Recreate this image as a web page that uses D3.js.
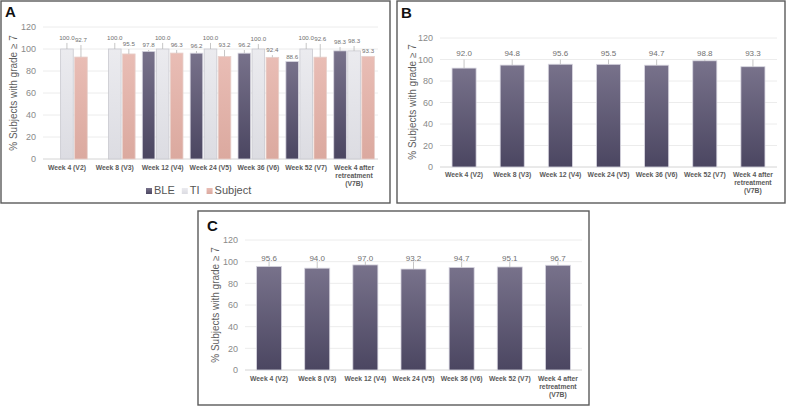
<!DOCTYPE html>
<html>
<head>
<meta charset="utf-8">
<script src="https://cdn.jsdelivr.net/npm/d3@7"></script>
<style>
  body { margin: 0; background: #fff; }
  svg { display: block; font-family: "Liberation Sans", Arial, sans-serif; }
</style>
</head>
<body>
<div id="chart"></div>
<script>
// categories (x axis)
const weekLabels = [
  ["Week 4 (V2)"], ["Week 8 (V3)"], ["Week 12 (V4)"], ["Week 24 (V5)"],
  ["Week 36 (V6)"], ["Week 52 (V7)"], ["Week 4 after", "retreatment", "(V7B)"]
];
const yTicks = [0, 20, 40, 60, 80, 100, 120];
const seriesNames = ["BLE", "TI", "Subject"];

// panel A values (% subjects with grade >= 7)
const aBLE = [null, null, 97.8, 96.2, 96.2, 88.6, 98.3];
const aTI = [100.0, 100.0, 100.0, 100.0, 100.0, 100.0, 98.3];
const aSubject = [92.7, 95.5, 96.3, 93.2, 92.4, 92.6, 93.3];
// upper whisker of each bar in panel A
const aBLEUpper = [null, null, 99.1, 98.2, 99.1, 88.6, 101.8];
const aTIUpper = [105.5, 105.5, 105.5, 105.5, 104.5, 105.5, 102.7];
const aSubjectUpper = [103.6, 100.0, 99.1, 99.1, 94.5, 104.5, 93.3];

// panel B values
const bValues = [92.0, 94.8, 95.6, 95.5, 94.7, 98.8, 93.3];
const bUpper = [100, 100, 100, 100, 100, 100, 100];

// panel C values
const cValues = [95.6, 94.0, 97.0, 93.2, 94.7, 95.1, 96.7];
const cUpper = [100, 100, 100, 100, 100, 100, 100];

const W = 788, H = 407;
const svg = d3.select("#chart").append("svg")
  .attr("width", W).attr("height", H);

svg.append("rect").attr("width", W).attr("height", H).attr("fill", "#fff");

// gradients for the bars
const defs = svg.append("defs");
var addGrad = function(id, top, bottom) {
  var g = defs.append("linearGradient").attr("id", id)
    .attr("x1", 0).attr("y1", 0).attr("x2", 0).attr("y2", 1);
  g.append("stop").attr("offset", "0%").attr("stop-color", top);
  g.append("stop").attr("offset", "100%").attr("stop-color", bottom);
};
addGrad("gBLE", "#78728b", "#4b4661");
addGrad("gTI", "#ebebef", "#dcdce2");
addGrad("gSub", "#e9bdb5", "#dba99f");
const fills = {BLE: "url(#gBLE)", TI: "url(#gTI)", Subject: "url(#gSub)"};
const edges = {BLE: "#d8d6e0", TI: "#c9c9cf", Subject: "#e8d0cb"};

var drawPanel = function(p) {
  // frame
  svg.append("rect")
    .attr("x", p.box[0]).attr("y", p.box[1])
    .attr("width", p.box[2] - p.box[0]).attr("height", p.box[3] - p.box[1])
    .attr("fill", "none").attr("stroke", "#5a5a5a").attr("stroke-width", 1.4);

  svg.append("text")
    .attr("x", p.letter[0]).attr("y", p.letter[1])
    .attr("font-size", 15).attr("font-weight", "bold").attr("fill", "#111")
    .text(p.name);

  var x = d3.scaleBand().domain(d3.range(weekLabels.length))
    .range([p.x0, p.x1]).paddingInner(p.pad).paddingOuter(p.pad / 2);
  var y = d3.scaleLinear().domain([0, 120]).range([p.yBase, p.yTop]);

  // gridlines
  var g = svg.append("g");
  g.selectAll(".grid").data(yTicks).enter().append("line")
    .attr("x1", p.x0).attr("x2", p.x1)
    .attr("y1", function(d) { return y(d); }).attr("y2", function(d) { return y(d); })
    .attr("stroke", function(d) { return d === 0 ? "#d4d4d4" : "#ececec"; })
    .attr("stroke-width", 1);

  // y axis labels (d3 axis, domain and ticks hidden)
  var ax = svg.append("g")
    .attr("transform", "translate(" + (p.x0 - 3) + ",0)")
    .call(d3.axisLeft(y).tickValues(yTicks).tickSize(0).tickPadding(4));
  ax.select(".domain").remove();
  ax.selectAll("text").attr("font-size", 9).attr("fill", "#8a8a8a")
    .attr("font-family", "Liberation Sans, Arial, sans-serif");

  // y title
  svg.append("text")
    .attr("transform", "translate(" + p.title[0] + "," + p.title[1] + ") rotate(-90)")
    .attr("text-anchor", "middle").attr("dominant-baseline", "central")
    .attr("font-size", 10).attr("fill", "#5f5f5f")
    .text("% Subjects with grade \u2265 7");

  // category labels
  weekLabels.forEach(function(lines, i) {
    var t = svg.append("text")
      .attr("x", x(i) + x.bandwidth() / 2).attr("y", p.catY)
      .attr("text-anchor", "middle").attr("font-size", 6.8)
      .attr("font-weight", "bold").attr("fill", "#5a5a5a");
    lines.forEach(function(l, k) {
      t.append("tspan").attr("x", x(i) + x.bandwidth() / 2)
        .attr("dy", k === 0 ? 0 : 8).text(l);
    });
  });

  var inner = d3.scaleBand().domain(p.series.map(function(s) { return s.key; }))
    .range([0, x.bandwidth()]).paddingInner(p.innerPad);

  p.series.forEach(function(s) {
    var pts = s.values.map(function(v, i) { return {i: i, v: v, up: s.upper[i]}; })
      .filter(function(d) { return d.v !== null; });
    var sg = svg.append("g");
    sg.selectAll("rect").data(pts).enter().append("rect")
      .attr("x", function(d) { return x(d.i) + inner(s.key); })
      .attr("y", function(d) { return y(d.v); })
      .attr("width", inner.bandwidth())
      .attr("height", function(d) { return y(0) - y(d.v); })
      .attr("fill", fills[s.key])
      .attr("stroke", edges[s.key]).attr("stroke-width", 0.8);
    // whisker lines
    sg.selectAll("line").data(pts.filter(function(d) { return d.up > d.v + 0.4; }))
      .enter().append("line")
      .attr("x1", function(d) { return x(d.i) + inner(s.key) + inner.bandwidth() / 2; })
      .attr("x2", function(d) { return x(d.i) + inner(s.key) + inner.bandwidth() / 2; })
      .attr("y1", function(d) { return y(d.up); })
      .attr("y2", function(d) { return y(d.v); })
      .attr("stroke", "#b8b8b8").attr("stroke-width", 0.8);
    // value labels
    sg.selectAll("text").data(pts).enter().append("text")
      .attr("x", function(d) { return x(d.i) + inner(s.key) + inner.bandwidth() / 2; })
      .attr("y", function(d) { return y(Math.max(d.up, d.v)) - p.labelGap; })
      .attr("text-anchor", "middle").attr("font-size", p.labelSize).attr("fill", "#707070")
      .text(function(d) { return d.v.toFixed(1); });
  });

  if (p.legend) {
    var lg = svg.append("g");
    var lx = p.legend[0];
    p.series.forEach(function(s) {
      lg.append("rect").attr("x", lx).attr("y", p.legend[1] - 6)
        .attr("width", 6).attr("height", 6).attr("fill", fills[s.key]);
      var t = lg.append("text").attr("x", lx + 8).attr("y", p.legend[1])
        .attr("font-size", 11).attr("fill", "#555").text(s.key);
      lx += 8 + t.node().getComputedTextLength() + 7;
    });
  }
};

drawPanel({
  name: "A", box: [1, 1, 390, 203], letter: [5, 17],
  x0: 43, x1: 378, yBase: 159, yTop: 27, pad: 0.15, innerPad: 0.1,
  title: [13, 93], catY: 170, labelSize: 6.2, labelGap: 3,
  legend: [146, 194],
  series: [
    {key: seriesNames[0], values: aBLE, upper: aBLEUpper},
    {key: seriesNames[1], values: aTI, upper: aTIUpper},
    {key: seriesNames[2], values: aSubject, upper: aSubjectUpper}
  ]
});

drawPanel({
  name: "B", box: [397, 1, 785, 203], letter: [401, 18],
  x0: 440, x1: 777, yBase: 167, yTop: 38, pad: 0.5, innerPad: 0,
  title: [412, 102], catY: 177, labelSize: 8, labelGap: 3.5,
  series: [{key: "BLE", values: bValues, upper: bUpper}]
});

drawPanel({
  name: "C", box: [198, 211, 589, 405], letter: [207, 231],
  x0: 245, x1: 582, yBase: 370, yTop: 240, pad: 0.48, innerPad: 0,
  title: [215, 305], catY: 381, labelSize: 8, labelGap: 1,
  series: [{key: "BLE", values: cValues, upper: cUpper}]
});
</script>
</body>
</html>
